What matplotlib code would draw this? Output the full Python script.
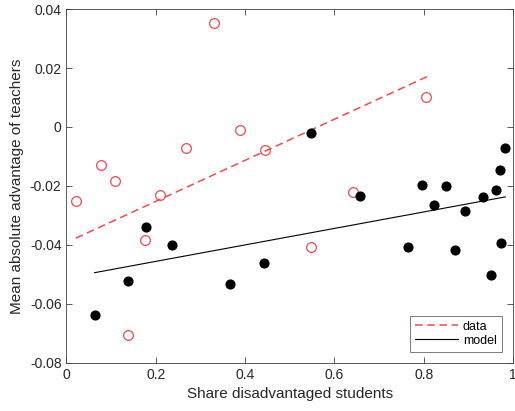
import matplotlib
matplotlib.use("Agg")
import matplotlib.pyplot as plt

plt.rcParams['font.family'] = ['Liberation Sans', 'DejaVu Sans']

# Red open circles (data)
data_x = [0.021, 0.077, 0.109, 0.137, 0.177, 0.210, 0.267, 0.330, 0.389, 0.445, 0.548, 0.641, 0.806]
data_y = [-0.0252, -0.0128, -0.0184, -0.0707, -0.0383, -0.0231, -0.0071, 0.0352, -0.0009, -0.0077, -0.0406, -0.0221, 0.0101]

# Black filled dots (model)
model_x = [0.063, 0.137, 0.179, 0.237, 0.366, 0.443, 0.548, 0.657, 0.764, 0.796, 0.824, 0.849,
           0.870, 0.892, 0.934, 0.951, 0.961, 0.970, 0.974, 0.983]
model_y = [-0.0638, -0.0522, -0.0339, -0.0399, -0.0532, -0.0462, -0.0020, -0.0235, -0.0407, -0.0198,
           -0.0263, -0.0200, -0.0418, -0.0285, -0.0237, -0.0503, -0.0214, -0.0146, -0.0393, -0.0071]

# Fitted lines (endpoints)
data_fit_x = [0.021, 0.808]
data_fit_y = [-0.0377, 0.0171]
model_fit_x = [0.063, 0.983]
model_fit_y = [-0.0494, -0.0237]

xticks = [0, 0.2, 0.4, 0.6, 0.8, 1]
xticklabels = ['0', '0.2', '0.4', '0.6', '0.8', '1']
yticks = [-0.08, -0.06, -0.04, -0.02, 0, 0.02, 0.04]
yticklabels = ['-0.08', '-0.06', '-0.04', '-0.02', '0', '0.02', '0.04']

red = '#ee4b50'
fig = plt.figure(figsize=(5.15, 4.11), dpi=100)
ax = fig.add_axes([0.129, 0.117, 0.867, 0.861])

ax.plot(data_x, data_y, 'o', mfc='none', mec=red, ms=7, mew=0.9, zorder=3)
ax.plot(model_x, model_y, 'o', mfc='black', mec='black', ms=6.3, zorder=3)
ax.plot(data_fit_x, data_fit_y, '--', color=red, lw=1.1, dashes=(5, 3), label='data')
ax.plot(model_fit_x, model_fit_y, '-', color='black', lw=0.8, label='model')

ax.set_xlim(0, 1)
ax.set_ylim(-0.08, 0.04)
ax.set_xticks(xticks)
ax.set_xticklabels(xticklabels)
ax.set_yticks(yticks)
ax.set_yticklabels(yticklabels)
ax.tick_params(direction='in', top=True, right=True, length=4, width=0.6,
               labelsize=10, colors='#404040', labelcolor='#262626')
for s in ax.spines.values():
    s.set_color('#404040')
    s.set_linewidth(0.6)

ax.set_xlabel('Share disadvantaged students', fontsize=11, color='#262626', labelpad=4)
ax.set_ylabel('Mean absolute advantage of teachers', fontsize=11, color='#262626', labelpad=4)

leg = ax.legend(loc='lower right', fontsize=9, frameon=True, fancybox=False,
                edgecolor='#404040', handlelength=3.4, handletextpad=0.4,
                borderaxespad=0.9, borderpad=0.4, labelspacing=0.15)
leg.get_frame().set_linewidth(0.6)

fig.savefig('out.png', dpi=100)
